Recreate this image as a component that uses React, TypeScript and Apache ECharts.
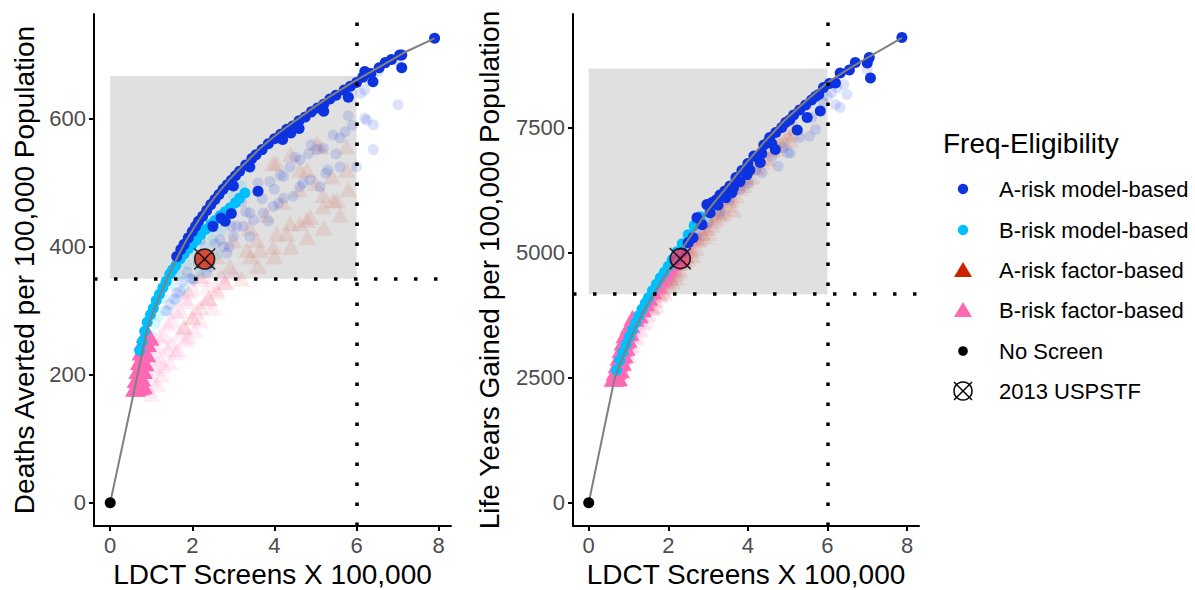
import React, { useEffect, useRef } from "react";
import * as echarts from "echarts";

// ---------- ticks & labels ----------
const xTicks = [0, 2, 4, 6, 8];
const yTicksDeaths = [0, 200, 400, 600];
const yTicksLYG = [0, 2500, 5000, 7500];
const xTitle = "LDCT Screens X 100,000";
const yTitleDeaths = "Deaths Averted per 100,000 Population";
const yTitleLYG = "Life Years Gained per 100,000 Population";
const legendTitle = "Freq-Eligibility";
const legendLabels = [
  "A-risk model-based",
  "B-risk model-based",
  "A-risk factor-based",
  "B-risk factor-based",
  "No Screen",
  "2013 USPSTF",
];

// ---------- thresholds: [xMin, xMax, yLow, yHigh] ----------
const deathsBox = [0, 6, 350, 667];
const lygBox = [0, 6, 4170, 8680];

// ---------- shared ----------
const noScreen = [[0, 0]];

// ---------- Deaths averted panel ----------
const deathsFrontier = [
  [0, 0], [0.9, 270], [1.0, 290], [1.12, 310], [1.25, 330], [1.4, 352], [1.55, 372], [1.7, 392],
  [1.85, 410], [2.02, 428], [2.25, 451], [2.43, 468], [2.65, 486], [2.9, 505], [3.15, 522],
  [3.4, 538], [3.6, 551], [3.85, 565], [4.1, 578], [4.4, 592], [4.7, 606], [5.0, 620], [5.3, 633],
  [5.6, 645], [5.9, 657], [6.2, 668], [6.55, 681], [6.9, 694], [7.2, 705], [7.9, 726],
];
const deathsAModel = [
  [1.62, 385], [1.72, 396], [1.8, 404], [1.9, 414], [2.0, 424], [2.08, 432], [2.15, 440], [2.25, 448],
  [2.35, 457], [2.45, 466], [2.55, 474], [2.65, 482], [2.75, 490], [2.85, 497], [2.95, 504], [3.05, 511],
  [3.15, 518], [3.3, 528], [3.45, 538], [3.55, 544], [3.7, 552], [3.85, 561], [4.0, 569], [4.15, 576],
  [4.3, 584], [4.45, 589], [4.6, 597], [4.75, 603], [4.9, 611], [5.05, 617], [5.2, 623], [5.35, 631],
  [5.5, 637], [5.7, 645], [5.85, 651], [6.0, 657], [6.15, 665], [6.35, 671], [6.55, 680], [6.85, 693],
  [7.05, 700], [7.9, 726], [2.8, 440], [2.95, 452], [3.6, 487], [3.0, 495], [3.4, 525], [4.2, 568],
  [4.6, 585], [5.8, 634], [6.4, 658], [7.1, 680], [6.2, 674], [6.7, 688], [7.1, 700], [5.2, 612],
  [4.4, 578], [2.5, 432], [2.7, 445],
];
const deathsAModelFaded = [
  [6.2, 645], [7.01, 622], [6.41, 591], [6.2, 601], [6.41, 552], [6.0, 525], [5.6, 525], [5.72, 580],
  [5.43, 575], [5.19, 554], [5.03, 552], [4.83, 546], [4.62, 536], [4.38, 525], [4.14, 512], [3.89, 502],
  [5.11, 494], [4.87, 505], [4.62, 494], [4.46, 479], [4.22, 476], [3.97, 463], [3.73, 453], [3.49, 442],
  [3.24, 432], [3.0, 416], [2.76, 400], [4.22, 510], [5.6, 570], [5.3, 520], [6.25, 598], [6.52, 674],
  [1.87, 361], [2.27, 380], [2.68, 411], [3.08, 432], [3.4, 453], [1.62, 328], [2.03, 348], [2.43, 369],
  [2.84, 390], [3.4, 416], [5.9, 590], [5.5, 545], [4.0, 490], [3.7, 475], [3.3, 455], [2.95, 432],
  [2.55, 405], [2.15, 375], [1.75, 345], [1.45, 310], [1.55, 318], [1.95, 350], [6.3, 660], [7.0, 690],
  [6.1, 640], [5.8, 605], [4.9, 560], [4.5, 540], [3.6, 500], [3.2, 470], [2.5, 430], [2.2, 410],
  [4.1, 468], [4.7, 500], [5.25, 515], [3.85, 440], [2.35, 360], [1.7, 330], [1.35, 300], [2.9, 400],
];
const deathsBModel = [
  [0.72, 238], [0.78, 252], [0.84, 268], [0.9, 282], [0.98, 294], [1.05, 304], [1.12, 316], [1.2, 326],
  [1.28, 336], [1.36, 346], [1.45, 357], [1.52, 364], [1.6, 371], [1.7, 381], [1.8, 389], [1.9, 397],
  [2.0, 404], [2.1, 411], [2.2, 419], [2.32, 427], [2.45, 435], [2.55, 441], [2.68, 449], [2.8, 455],
  [2.92, 461], [3.05, 469], [3.15, 476], [3.28, 484],
];
const deathsBModelFaded = [
  [1.3, 320], [1.5, 340], [1.7, 355], [1.9, 372], [2.1, 388], [2.3, 400], [2.5, 412], [2.7, 425],
  [1.4, 300], [1.6, 318], [1.8, 335], [2.0, 350], [2.2, 362], [2.4, 375], [2.6, 388], [3.0, 480],
  [3.2, 495], [1.1, 280], [1.0, 262], [1.2, 292],
];
const deathsAFactorFaded = [
  [5.03, 562], [5.52, 473], [5.19, 463], [4.87, 447], [4.62, 437], [4.3, 421], [3.97, 400], [3.65, 395],
  [5.76, 557], [5.76, 520], [4.62, 520], [4.05, 531], [5.11, 557], [5.19, 481], [5.43, 473], [4.78, 442],
  [4.38, 437], [3.97, 531], [4.05, 421], [3.57, 411], [3.33, 395], [3.41, 385], [2.92, 369], [3.2, 350],
  [2.8, 345], [2.6, 330], [2.4, 320], [2.2, 305], [2.0, 290], [1.8, 275], [3.6, 370], [4.0, 385],
  [4.4, 400], [4.8, 415], [5.2, 430], [5.6, 450], [4.6, 490], [4.2, 470], [3.8, 450], [3.4, 430],
  [3.0, 410], [2.6, 385], [2.2, 355], [1.9, 330], [5.0, 500], [5.4, 510], [5.8, 490], [4.4, 545],
  [4.8, 520],
];
const deathsBFactor = [
  [0.58, 178], [0.66, 178], [0.74, 180], [0.82, 182], [0.62, 192], [0.7, 195], [0.78, 194], [0.66, 206],
  [0.74, 209], [0.82, 206], [0.7, 220], [0.78, 222], [0.86, 218], [0.74, 235], [0.82, 238], [0.9, 232],
  [0.78, 250], [0.86, 252], [0.92, 248], [0.84, 262], [0.92, 264], [0.98, 258],
];
const deathsBFactorFaded = [
  [0.9, 180], [1.0, 195], [1.1, 210], [1.2, 225], [1.3, 215], [1.4, 240], [1.5, 250], [1.6, 235],
  [1.7, 265], [1.8, 275], [1.9, 260], [2.0, 290], [2.1, 300], [2.2, 285], [2.3, 315], [2.4, 320],
  [2.5, 305], [2.6, 335], [2.8, 345], [3.0, 360], [1.2, 260], [1.4, 280], [1.6, 300], [1.8, 320],
  [2.0, 335], [2.2, 350], [1.05, 230], [1.15, 245], [1.3, 262], [1.5, 285], [1.7, 300], [1.9, 315],
  [2.7, 355], [2.4, 340], [1.0, 170], [1.15, 185], [1.25, 200], [1.45, 220], [1.65, 240], [1.85, 255],
  [2.05, 270],
];
const deathsUSPSTF = [[2.3, 381]];

// ---------- Life-years gained panel ----------
const lygFrontier = [
  [0, 0], [0.64, 2450], [0.8, 2800], [1.0, 3180], [1.2, 3540], [1.4, 3860], [1.6, 4130], [1.8, 4390],
  [2.0, 4640], [2.2, 4890], [2.4, 5140], [2.6, 5380], [2.8, 5620], [3.0, 5850], [3.14, 5990],
  [3.4, 6240], [3.73, 6570], [4.0, 6830], [4.4, 7200], [4.9, 7627], [5.5, 8060], [5.99, 8393],
  [6.5, 8660], [7.0, 8893], [7.87, 9293],
];
const lygAModel = [
  [2.72, 5700], [2.97, 5960], [3.1, 6000], [3.2, 6050], [3.3, 6150], [3.42, 6230], [3.55, 6330],
  [3.64, 6300], [3.7, 6500], [3.85, 6640], [3.98, 6560], [4.0, 6780], [4.15, 6930], [4.25, 6900],
  [4.31, 6800], [4.4, 7150], [4.5, 7200], [4.55, 7300], [4.69, 7060], [4.7, 7400], [4.85, 7500],
  [4.95, 7600], [5.05, 7650], [5.15, 7750], [5.24, 7450], [5.3, 7850], [5.45, 7950], [5.49, 7700],
  [5.6, 8050], [5.7, 8120], [5.78, 8160], [5.82, 7830], [5.9, 8300], [6.05, 8380], [6.2, 8393],
  [6.32, 8593], [6.55, 8650], [6.7, 8800], [7.0, 8793], [7.08, 8493], [7.05, 8900], [7.87, 9300],
  [2.5, 5200], [2.62, 5300], [2.85, 5560], [3.05, 5800], [3.25, 5950], [3.45, 6100], [3.6, 6200],
  [3.8, 6420], [4.05, 6650], [4.35, 6980], [4.6, 7180], [2.35, 5000], [2.2, 4850],
];
const lygAModelFaded = [
  [6.32, 7900], [6.49, 8160], [6.0, 8127], [6.24, 8293], [5.07, 6993], [5.0, 6993], [5.55, 7327],
  [5.7, 7460], [4.76, 6727], [4.6, 6920], [4.35, 6590], [4.0, 6390], [3.8, 6260], [3.53, 6060],
  [7.0, 8660], [6.41, 8360], [6.2, 7960], [5.9, 8000], [5.3, 7300], [4.9, 7100], [4.2, 6650],
  [3.3, 5800], [3.0, 5600], [2.7, 5350], [2.4, 5000], [2.1, 4650], [5.6, 7700], [6.1, 8200],
];
const lygBModel = [
  [0.7, 2650], [0.78, 2850], [0.86, 3010], [0.94, 3170], [1.02, 3320], [1.1, 3460], [1.18, 3600],
  [1.26, 3740], [1.34, 3870], [1.42, 3990], [1.5, 4100], [1.6, 4240], [1.7, 4370], [1.8, 4500],
  [1.9, 4610], [2.0, 4730], [2.1, 4860], [2.22, 5020], [2.35, 5180], [2.5, 5360], [2.65, 5540],
  [2.8, 5720],
];
const lygBModelFaded = [
  [1.6, 4150], [1.9, 4500], [2.2, 4850], [2.5, 5200], [2.8, 5550], [3.0, 5750], [3.2, 5950],
  [2.4, 5000], [2.0, 4550], [1.4, 3800],
];
const lygAFactorFaded = [
  [1.6, 3900], [1.8, 4150], [2.0, 4380], [2.2, 4600], [2.4, 4850], [2.6, 5050], [2.8, 5300],
  [3.0, 5500], [3.2, 5700], [3.4, 5900], [3.6, 6100], [3.8, 6300], [4.0, 6500], [4.2, 6700],
  [4.4, 6900], [4.6, 7050], [4.8, 7200], [5.0, 7350], [5.2, 7500], [1.7, 3950], [1.9, 4200],
  [2.1, 4430], [2.3, 4650], [2.5, 4880], [2.7, 5100], [2.9, 5330], [3.1, 5560], [3.3, 5760],
  [3.5, 5950], [3.7, 6150], [3.9, 6350], [4.1, 6520], [4.3, 6720], [4.5, 6880], [4.7, 7080],
  [4.9, 7250], [5.1, 7400], [2.2, 4500], [2.6, 4950], [3.0, 5400], [3.4, 5800], [5.07, 7260],
  [3.81, 6393], [3.64, 5860], [2.35, 4800], [2.75, 5250], [3.15, 5650], [3.55, 6050], [3.95, 6450],
  [4.35, 6820], [4.75, 7150], [1.85, 4250], [2.05, 4500], [2.45, 4950], [2.85, 5400], [3.25, 5820],
];
const lygBFactor = [
  [0.6, 2480], [0.68, 2480], [0.76, 2490], [0.65, 2600], [0.73, 2620], [0.81, 2650], [0.7, 2750],
  [0.78, 2780], [0.86, 2800], [0.75, 2900], [0.83, 2930], [0.9, 2950], [0.8, 3050], [0.88, 3080],
  [0.95, 3100], [0.85, 3200], [0.93, 3230], [1.0, 3260], [0.9, 3350], [0.98, 3380], [1.05, 3400],
  [1.0, 3520], [1.08, 3550], [1.1, 3700], [1.18, 3680], [1.28, 3750], [1.36, 3870], [1.44, 3990],
  [1.52, 4100], [1.62, 4230], [1.72, 4350], [1.82, 4470], [1.92, 4580], [2.02, 4690], [2.12, 4800],
  [2.22, 4900],
];
const lygBFactorFaded = [
  [0.95, 2950], [1.05, 3120], [1.15, 3300], [1.25, 3450], [1.35, 3600], [1.45, 3750], [1.55, 3900],
  [1.65, 4050], [1.75, 4180], [1.85, 4300], [1.95, 4420], [2.05, 4550], [2.15, 4680], [2.25, 4800],
  [2.35, 4920], [2.45, 5040], [2.55, 5150], [2.65, 5270], [1.0, 2950], [1.1, 3150], [1.2, 3330],
  [1.3, 3480], [1.4, 3630], [1.5, 3780], [1.6, 3920], [1.7, 4060], [1.8, 4200], [1.9, 4330],
  [2.0, 4450], [2.1, 4570], [2.2, 4700], [2.3, 4830], [2.4, 4950], [2.5, 5070], [2.7, 5300],
  [2.9, 5500],
];
const lygUSPSTF = [[2.3, 4880]];

// ---------- styles ----------
const FONT = "Liberation Sans, Arial, Helvetica, sans-serif";
const C_A_MODEL = "#0d32e0";
const C_B_MODEL = "#00bfff";
const C_A_FACTOR = "#cc2200";
const C_B_FACTOR = "#ff69b4";
const USPSTF_PATH =
  "path://M0,-10A10,10,0,1,1,0,10A10,10,0,1,1,0,-10ZM-10.5,-10.5L10.5,10.5M10.5,-10.5L-10.5,10.5";

function panelSeries(
  gi: number,
  d: {
    box: number[];
    frontier: number[][];
    aModel: number[][];
    aModelFaded: number[][];
    bModel: number[][];
    bModelFaded: number[][];
    aFactorFaded: number[][];
    bFactor: number[][];
    bFactorFaded: number[][];
    uspstf: number[][];
    uspstfFill: string;
  }
) {
  const sc = (name: string, data: number[][], color: string, symbol: string, size: any, opacity: number, z: number) => ({
    type: "scatter",
    name,
    xAxisIndex: gi,
    yAxisIndex: gi,
    data,
    symbol,
    symbolSize: size,
    itemStyle: { color, opacity },
    z,
    silent: true,
  });
  return [
    {
      type: "scatter",
      xAxisIndex: gi,
      yAxisIndex: gi,
      data: [],
      z: 1,
      silent: true,
      markArea: {
        silent: true,
        itemStyle: { color: "#e0e0e0", opacity: 1 },
        data: [[{ xAxis: d.box[0], yAxis: d.box[2] }, { xAxis: d.box[1], yAxis: d.box[3] }]],
      },
    },
    sc("B-risk factor-based", d.bFactorFaded, C_B_FACTOR, "triangle", [18, 16], 0.12, 2),
    sc("A-risk factor-based", d.aFactorFaded, C_A_FACTOR, "triangle", [18, 16], 0.09, 2),
    sc("B-risk model-based", d.bModelFaded, C_B_MODEL, "circle", 11, 0.14, 2),
    sc("A-risk model-based", d.aModelFaded, C_A_MODEL, "circle", 11, 0.14, 2),
    sc("B-risk factor-based", d.bFactor, C_B_FACTOR, "triangle", [18, 16], 1, 3),
    sc("B-risk model-based", d.bModel, C_B_MODEL, "circle", 11, 1, 3),
    sc("A-risk model-based", d.aModel, C_A_MODEL, "circle", 11, 1, 3),
    {
      type: "line",
      xAxisIndex: gi,
      yAxisIndex: gi,
      data: d.frontier,
      showSymbol: false,
      symbol: "none",
      lineStyle: { color: "#808080", width: 2 },
      z: 4,
      silent: true,
    },
    sc("No Screen", noScreen, "#000000", "circle", 11, 1, 5),
    {
      type: "scatter",
      name: "2013 USPSTF",
      xAxisIndex: gi,
      yAxisIndex: gi,
      data: d.uspstf,
      symbol: USPSTF_PATH,
      symbolSize: 21,
      itemStyle: { color: d.uspstfFill, borderColor: "#000", borderWidth: 1.6 },
      z: 6,
      silent: true,
    },
    {
      type: "scatter",
      xAxisIndex: gi,
      yAxisIndex: gi,
      data: [],
      z: 7,
      silent: true,
      markLine: {
        silent: true,
        symbol: "none",
        label: { show: false },
        lineStyle: { color: "#000", width: 3.5, type: [3.5, 16.5], cap: "butt" },
        data: [{ xAxis: d.box[1] }, { yAxis: d.box[2] }],
      },
    },
  ];
}

function axisCommon(ticks: number[]) {
  return {
    type: "value",
    splitLine: { show: false },
    axisLine: { show: true, onZero: false, lineStyle: { color: "#000", width: 2 } },
    axisTick: { show: true, customValues: ticks, length: 5, lineStyle: { color: "#000", width: 2 } },
    axisLabel: {
      customValues: ticks,
      color: "#4d4d4d",
      fontSize: 22,
      fontFamily: FONT,
      formatter: (v: number) => String(v),
    },
    nameLocation: "middle",
    nameTextStyle: { color: "#000", fontSize: 28, fontFamily: FONT },
  };
}

function legendGraphics() {
  const x0 = 963;
  const ys = [189, 230, 270, 310, 351, 391];
  const els: any[] = [
    {
      type: "text",
      x: 943,
      y: 143,
      style: { text: legendTitle, fill: "#000", fontSize: 28, fontFamily: FONT, align: "left", verticalAlign: "middle" },
    },
  ];
  const tri = (cy: number, color: string) => ({
    type: "polygon",
    shape: { points: [[x0, cy - 8], [x0 + 9, cy + 7], [x0 - 9, cy + 7]] },
    style: { fill: color },
  });
  els.push({ type: "circle", shape: { cx: x0, cy: ys[0], r: 5.2 }, style: { fill: C_A_MODEL } });
  els.push({ type: "circle", shape: { cx: x0, cy: ys[1], r: 5.2 }, style: { fill: C_B_MODEL } });
  els.push(tri(ys[2], C_A_FACTOR));
  els.push(tri(ys[3], C_B_FACTOR));
  els.push({ type: "circle", shape: { cx: x0, cy: ys[4], r: 4.8 }, style: { fill: "#000" } });
  els.push({ type: "circle", shape: { cx: x0, cy: ys[5], r: 9 }, style: { fill: "none", stroke: "#000", lineWidth: 1.5 } });
  els.push({ type: "line", shape: { x1: x0 - 9, y1: ys[5] - 9, x2: x0 + 9, y2: ys[5] + 9 }, style: { stroke: "#000", lineWidth: 1.5 } });
  els.push({ type: "line", shape: { x1: x0 + 9, y1: ys[5] - 9, x2: x0 - 9, y2: ys[5] + 9 }, style: { stroke: "#000", lineWidth: 1.5 } });
  legendLabels.forEach((t, i) => {
    els.push({
      type: "text",
      x: 999,
      y: ys[i],
      style: { text: t, fill: "#000", fontSize: 22, fontFamily: FONT, align: "left", verticalAlign: "middle" },
    });
  });
  return els;
}

export default function App() {
  const ref = useRef<HTMLDivElement>(null);
  useEffect(() => {
    if (!ref.current) return;
    const chart = echarts.init(ref.current, undefined, { renderer: "svg" });
    const option: any = {
      animation: false,
      backgroundColor: "#ffffff",
      textStyle: { fontFamily: FONT },
      grid: [
        { left: 94, top: 14, width: 357, height: 512, outerBoundsMode: "none", containLabel: false },
        { left: 573, top: 14, width: 346, height: 512, outerBoundsMode: "none", containLabel: false },
      ],
      xAxis: [
        { ...axisCommon(xTicks), gridIndex: 0, min: -0.395, max: 8.3, name: xTitle, nameGap: 33 },
        { ...axisCommon(xTicks), gridIndex: 1, min: -0.395, max: 8.3, name: xTitle, nameGap: 33 },
      ],
      yAxis: [
        { ...axisCommon(yTicksDeaths), gridIndex: 0, min: -36.4, max: 764, name: yTitleDeaths, nameGap: 56 },
        { ...axisCommon(yTicksLYG), gridIndex: 1, min: -465, max: 9771, name: yTitleLYG, nameGap: 70 },
      ],
      series: [
        ...panelSeries(0, {
          box: deathsBox,
          frontier: deathsFrontier,
          aModel: deathsAModel,
          aModelFaded: deathsAModelFaded,
          bModel: deathsBModel,
          bModelFaded: deathsBModelFaded,
          aFactorFaded: deathsAFactorFaded,
          bFactor: deathsBFactor,
          bFactorFaded: deathsBFactorFaded,
          uspstf: deathsUSPSTF,
          uspstfFill: "#d82a10",
        }),
        ...panelSeries(1, {
          box: lygBox,
          frontier: lygFrontier,
          aModel: lygAModel,
          aModelFaded: lygAModelFaded,
          bModel: lygBModel,
          bModelFaded: lygBModelFaded,
          aFactorFaded: lygAFactorFaded,
          bFactor: lygBFactor,
          bFactorFaded: lygBFactorFaded,
          uspstf: lygUSPSTF,
          uspstfFill: "#e24f78",
        }),
      ],
      graphic: legendGraphics(),
    };
    chart.setOption(option);
    return () => chart.dispose();
  }, []);
  return (
    <div
      ref={ref}
      style={{ position: "absolute", left: 0, top: 0, width: 1195, height: 590, overflow: "hidden" }}
    />
  );
}
